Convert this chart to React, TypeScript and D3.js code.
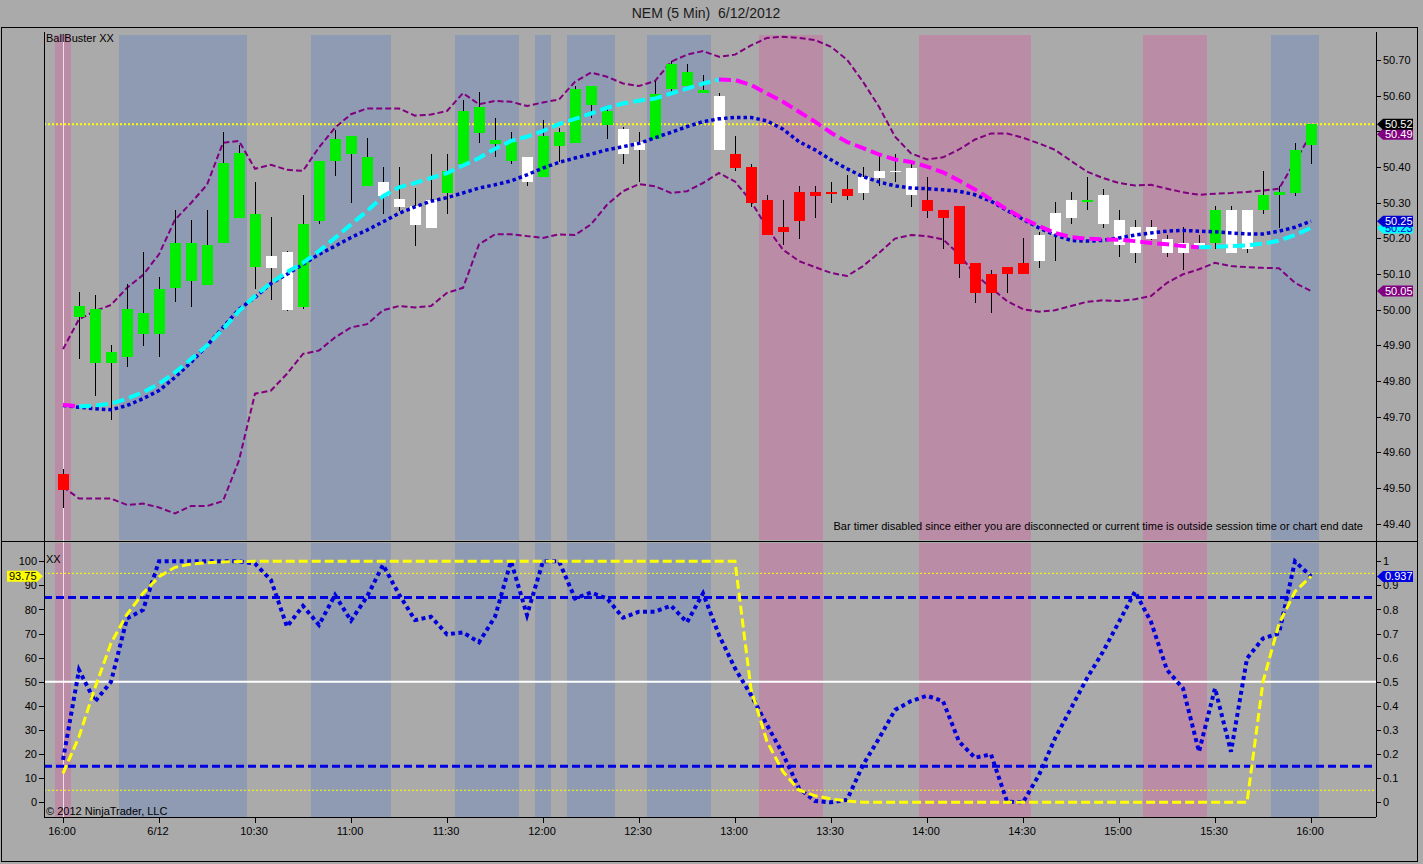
import React from 'react';
import * as d3 from 'd3';

// ---------- DATA ----------
const barColor: string[] = [
  'r', 'g', 'g', 'g', 'g', 'g', 'g', 'g', 'g', 'g',
  'g', 'g', 'g', 'w', 'w', 'g', 'g', 'g', 'g', 'g',
  'w', 'w', 'w', 'w', 'g', 'g', 'g', 'g', 'g', 'w',
  'g', 'g', 'g', 'g', 'g', 'w', 'w', 'g', 'g', 'g',
  'g', 'w', 'r', 'r', 'r', 'r', 'r', 'r', 'r', 'r',
  'w', 'w', 'w', 'w', 'r', 'r', 'r', 'r', 'r', 'r',
  'r', 'w', 'w', 'w', 'g', 'w', 'w', 'w', 'w', 'w',
  'w', 'w', 'g', 'w', 'w', 'g', 'g', 'g', 'g',
];

const openP = [
  49.540, 49.978, 49.849, 49.849, 49.868, 49.931, 49.931, 50.060, 50.080, 50.068,
  50.187, 50.257, 50.119, 50.150, 50.161, 50.008, 50.248, 50.417, 50.437, 50.346,
  50.359, 50.310, 50.290, 50.308, 50.327, 50.408, 50.496, 50.465, 50.417, 50.429,
  50.371, 50.459, 50.466, 50.575, 50.518, 50.507, 50.469, 50.479, 50.618, 50.628,
  50.608, 50.600, 50.437, 50.399, 50.308, 50.231, 50.329, 50.329, 50.329, 50.339,
  50.371, 50.389, 50.389, 50.397, 50.308, 50.278, 50.290, 50.130, 50.099, 50.119,
  50.131, 50.209, 50.271, 50.308, 50.301, 50.320, 50.250, 50.231, 50.231, 50.199,
  50.187, 50.187, 50.187, 50.278, 50.278, 50.278, 50.320, 50.327, 50.462,
];
const highP = [
  49.553, 50.050, 50.041, 49.901, 50.071, 50.162, 50.092, 50.280, 50.252, 50.280,
  50.499, 50.462, 50.359, 50.259, 50.165, 50.320, 50.417, 50.504, 50.488, 50.480,
  50.399, 50.399, 50.341, 50.437, 50.437, 50.589, 50.609, 50.538, 50.499, 50.429,
  50.532, 50.508, 50.628, 50.628, 50.569, 50.513, 50.499, 50.641, 50.697, 50.688,
  50.659, 50.608, 50.488, 50.409, 50.320, 50.308, 50.348, 50.348, 50.359, 50.378,
  50.399, 50.432, 50.436, 50.408, 50.371, 50.278, 50.290, 50.130, 50.110, 50.119,
  50.201, 50.218, 50.301, 50.329, 50.371, 50.339, 50.278, 50.251, 50.251, 50.209,
  50.231, 50.209, 50.290, 50.290, 50.278, 50.389, 50.348, 50.468, 50.520,
];
const lowP = [
  49.443, 49.861, 49.758, 49.689, 49.838, 49.899, 49.868, 50.020, 50.008, 50.068,
  50.187, 50.257, 50.059, 50.027, 49.995, 50.001, 50.239, 50.376, 50.299, 50.346,
  50.268, 50.276, 50.178, 50.229, 50.268, 50.408, 50.466, 50.427, 50.408, 50.346,
  50.371, 50.415, 50.466, 50.536, 50.479, 50.408, 50.358, 50.479, 50.606, 50.628,
  50.608, 50.448, 50.389, 50.288, 50.208, 50.181, 50.198, 50.257, 50.299, 50.306,
  50.306, 50.348, 50.358, 50.288, 50.257, 50.169, 50.089, 50.018, 49.989, 50.047,
  50.099, 50.117, 50.136, 50.239, 50.278, 50.229, 50.148, 50.130, 50.194, 50.148,
  50.110, 50.178, 50.169, 50.159, 50.159, 50.269, 50.229, 50.318, 50.408,
];
const closeP = [
  49.494, 50.010, 50.001, 49.880, 50.001, 49.990, 50.059, 50.187, 50.187, 50.180,
  50.411, 50.439, 50.269, 50.117, 49.999, 50.239, 50.417, 50.479, 50.488, 50.427,
  50.318, 50.288, 50.237, 50.229, 50.389, 50.557, 50.567, 50.475, 50.471, 50.358,
  50.488, 50.499, 50.618, 50.628, 50.557, 50.436, 50.448, 50.606, 50.688, 50.667,
  50.617, 50.448, 50.397, 50.299, 50.208, 50.218, 50.248, 50.318, 50.327, 50.318,
  50.327, 50.369, 50.387, 50.320, 50.276, 50.257, 50.128, 50.047, 50.047, 50.099,
  50.099, 50.136, 50.212, 50.257, 50.308, 50.239, 50.180, 50.159, 50.198, 50.159,
  50.159, 50.178, 50.278, 50.159, 50.169, 50.320, 50.329, 50.448, 50.520,
];

const upperBand = [
  49.889, 49.973, 49.996, 50.013, 50.061, 50.097, 50.155, 50.252, 50.299, 50.350,
  50.468, 50.473, 50.395, 50.406, 50.392, 50.389, 50.455, 50.510, 50.548, 50.564,
  50.564, 50.564, 50.544, 50.547, 50.557, 50.607, 50.576, 50.585, 50.583, 50.571,
  50.581, 50.589, 50.639, 50.665, 50.653, 50.634, 50.627, 50.641, 50.695, 50.715,
  50.725, 50.709, 50.715, 50.741, 50.762, 50.765, 50.762, 50.756, 50.737, 50.701,
  50.639, 50.569, 50.485, 50.438, 50.421, 50.427, 50.449, 50.477, 50.494, 50.494,
  50.482, 50.466, 50.448, 50.417, 50.387, 50.369, 50.355, 50.348, 50.350, 50.339,
  50.329, 50.322, 50.325, 50.327, 50.330, 50.334, 50.339, 50.415, 50.492,
];
const lowerBand = [
  49.503, 49.470, 49.470, 49.470, 49.452, 49.456, 49.445, 49.428, 49.449, 49.449,
  49.463, 49.577, 49.764, 49.773, 49.820, 49.876, 49.885, 49.922, 49.950, 49.959,
  49.998, 50.010, 50.006, 50.010, 50.047, 50.061, 50.183, 50.211, 50.211, 50.206,
  50.201, 50.211, 50.209, 50.239, 50.294, 50.332, 50.352, 50.346, 50.327, 50.332,
  50.355, 50.383, 50.359, 50.304, 50.229, 50.168, 50.136, 50.119, 50.103, 50.094,
  50.122, 50.159, 50.199, 50.209, 50.206, 50.197, 50.155, 50.099, 50.061, 50.024,
  50.001, 49.994, 49.998, 50.010, 50.022, 50.026, 50.024, 50.029, 50.038, 50.075,
  50.099, 50.113, 50.131, 50.122, 50.119, 50.117, 50.116, 50.075, 50.052,
];
const midLine = [
  49.731, 49.726, 49.722, 49.719, 49.731, 49.750, 49.773, 49.810, 49.852, 49.899,
  49.950, 50.001, 50.034, 50.073, 50.099, 50.127, 50.155, 50.178, 50.202, 50.223,
  50.246, 50.270, 50.288, 50.304, 50.314, 50.327, 50.341, 50.350, 50.361, 50.378,
  50.397, 50.413, 50.425, 50.436, 50.448, 50.457, 50.466, 50.482, 50.497, 50.513,
  50.527, 50.535, 50.539, 50.539, 50.529, 50.506, 50.471, 50.448, 50.420, 50.395,
  50.373, 50.358, 50.347, 50.341, 50.339, 50.336, 50.332, 50.322, 50.304, 50.278,
  50.253, 50.229, 50.209, 50.194, 50.192, 50.194, 50.201, 50.209, 50.215, 50.220,
  50.222, 50.220, 50.218, 50.215, 50.212, 50.212, 50.220, 50.231, 50.248,
];
const trendLine = [
  49.733, 49.728, 49.731, 49.736, 49.750, 49.768, 49.792, 49.824, 49.861, 49.899,
  49.945, 49.996, 50.038, 50.075, 50.105, 50.131, 50.164, 50.201, 50.239, 50.276,
  50.318, 50.343, 50.355, 50.369, 50.383, 50.404, 50.425, 50.451, 50.473, 50.485,
  50.501, 50.520, 50.535, 50.550, 50.566, 50.578, 50.586, 50.592, 50.606, 50.620,
  50.634, 50.645, 50.644, 50.630, 50.606, 50.583, 50.555, 50.527, 50.496, 50.470,
  50.453, 50.435, 50.421, 50.414, 50.401, 50.385, 50.362, 50.337, 50.309, 50.281,
  50.256, 50.234, 50.215, 50.203, 50.199, 50.197, 50.196, 50.192, 50.187, 50.183,
  50.178, 50.175, 50.176, 50.178, 50.180, 50.185, 50.193, 50.209, 50.229,
];

const oscDotted = [
  17.6, 54.9, 41.8, 50.0, 76.3, 79.8, 100, 100, 100, 100,
  100, 100, 99.0, 92.2, 72.9, 81.5, 73.6, 86.0, 75.4, 85.3,
  98.5, 86.3, 75.6, 77.0, 69.7, 70.5, 66.4, 77.0, 100, 77.7,
  100, 100, 84.6, 87.0, 84.6, 76.6, 79.1, 79.1, 81.6, 74.7,
  86.7, 69.4, 55.6, 44.5, 32.1, 20.0, 5.8, 0.5, 0, 1.0,
  15.5, 26.5, 38.3, 42.0, 44.2, 42.0, 25.2, 18.5, 19.9, 0.3,
  0, 11.3, 26.5, 39.0, 51.5, 62.5, 74.9, 87.4, 74.9, 54.9,
  47.3, 21.0, 47.3, 21.0, 59.7, 68.0, 70.1, 100, 93.7,
];
const oscDashed = [
  12.0, 27.2, 47.5, 66.0, 78.0, 86.7, 93.6, 97.5, 98.9, 99.4,
  99.7, 99.9, 100, 100, 100, 100, 100, 100, 100, 100,
  100, 100, 100, 100, 100, 100, 100, 100, 100, 100,
  100, 100, 100, 100, 100, 100, 100, 100, 100, 100,
  100, 100, 100, 47.0, 25.2, 12.7, 5.1, 2.7, 1.4, 0.5,
  0, 0, 0, 0, 0, 0, 0, 0, 0, 0,
  0, 0, 0, 0, 0, 0, 0, 0, 0, 0,
  0, 0, 0, 0, 0, 50.0, 74.0, 87.4, 93.75,
];

const blueZones: [number, number][] = [[4, 11], [16, 20], [25, 28], [30, 30], [32, 34], [37, 40], [76, 78]];
const pinkZones: [number, number][] = [[0, 0], [44, 47], [54, 60], [68, 71]];

const timeTickBars = [0, 6, 12, 18, 24, 30, 36, 42, 48, 54, 60, 66, 72, 78];
const timeTickLabels = ['16:00', '6/12', '10:30', '11:00', '11:30', '12:00', '12:30', '13:00', '13:30', '14:00', '14:30', '15:00', '15:30', '16:00'];
const priceTicks = [49.4, 49.5, 49.6, 49.7, 49.8, 49.9, 50.0, 50.1, 50.2, 50.3, 50.4, 50.5, 50.6, 50.7];
const oscTicks = [0, 10, 20, 30, 40, 50, 60, 70, 80, 90, 100];
const oscLevels = { hiDot: 95, loDot: 5, hiDash: 85, loDash: 15, mid: 50 };

// ---------- LAYOUT ----------
const W = 1423, H = 864;
const FONT = "'Liberation Sans', Arial, Helvetica, sans-serif";
const L = 44, R = 1376;
const BG = '#aaaaaa';
const BLUE_Z = '#8f9ab3';
const PINK_Z = '#bb8ca6';

export default function App() {
  const N = closeP.length;
  const x = d3.scaleLinear().domain([0, N - 1]).range([63, 1311]);
  const yP = d3.scaleLinear().domain([49.4, 50.7]).range([523.5, 60]);
  const yO = d3.scaleLinear().domain([0, 100]).range([802.3, 561.3]);
  const idx = d3.range(N);

  const lineP = (arr: number[]) =>
    d3.line<number>().x(i => x(i)).y(i => yP(arr[i]))(idx) || '';
  const lineO = (arr: number[]) =>
    d3.line<number>().x(i => x(i)).y(i => yO(arr[i]))(idx) || '';

  // cyan / magenta runs of the trend line
  const runs: { s: number; e: number; c: string }[] = [];
  let s = 0;
  let col = trendLine[1] >= trendLine[0] ? '#00ffff' : '#ff00ff';
  for (let i = 1; i < N; i++) {
    const c = trendLine[i] >= trendLine[i - 1] ? '#00ffff' : '#ff00ff';
    if (c !== col) {
      runs.push({ s, e: i - 1, c: col });
      s = i - 1;
      col = c;
    }
  }
  runs.push({ s, e: N - 1, c: col });

  const zoneRects = (top: number, bottom: number, key: string) => (
    <g key={key}>
      {blueZones.map(([a, b], k) => (
        <rect key={'b' + k} x={x(a) - 8} y={top} width={x(b) - x(a) + 16} height={bottom - top} fill={BLUE_Z} />
      ))}
      {pinkZones.map(([a, b], k) => (
        <rect key={'p' + k} x={x(a) - 8} y={top} width={x(b) - x(a) + 16} height={bottom - top} fill={PINK_Z} />
      ))}
    </g>
  );

  const colorOf = (c: string) => (c === 'g' ? '#00ee00' : c === 'r' ? '#ff0000' : '#ffffff');

  const rightMarker = (v: number, label: string, fill: string, tc: string, key: string) => {
    const y = v;
    return (
      <g key={key}>
        <polygon points={`1377,${y} 1383,${y - 5.5} 1413,${y - 5.5} 1413,${y + 5.5} 1383,${y + 5.5}`} fill={fill} />
        <text x={1385} y={y + 4} fontSize={11} fill={tc} fontFamily={FONT}>{label}</text>
      </g>
    );
  };

  const last = N - 1;

  return (
    <svg width={W} height={H} style={{ position: 'absolute', left: 0, top: 0, background: BG }} fontFamily={FONT}>
      <rect x={0} y={0} width={W} height={H} fill={BG} />
      {/* title */}
      <text x={706} y={18} fontSize={14} textAnchor="middle" fill="#1a1a1a" style={{ whiteSpace: 'pre' }}>
        {'NEM (5 Min)  6/12/2012'}
      </text>

      {/* zones */}
      {zoneRects(35, 540, 'z1')}
      {zoneRects(543, 817, 'z2')}
      <line x1={x(0) + 0.5} x2={x(0) + 0.5} y1={35} y2={817} stroke="#f2dde8" strokeWidth={1} />

      {/* ---- top panel ---- */}
      <line x1={L} x2={R} y1={yP(closeP[last])} y2={yP(closeP[last])} stroke="#ffff00" strokeWidth={2} strokeDasharray="2,2" />
      <path d={lineP(upperBand)} fill="none" stroke="#800080" strokeWidth={2} strokeDasharray="6,3" />
      <path d={lineP(lowerBand)} fill="none" stroke="#800080" strokeWidth={2} strokeDasharray="6,3" />

      {/* candles */}
      <g shapeRendering="crispEdges">
        {idx.map(i => {
          const cx = Math.round(x(i));
          const top = yP(Math.max(openP[i], closeP[i]));
          const bot = yP(Math.min(openP[i], closeP[i]));
          return (
            <g key={i}>
              <line x1={cx + 0.5} x2={cx + 0.5} y1={yP(highP[i])} y2={yP(lowP[i])} stroke="#000" strokeWidth={1} />
              <rect x={cx - 5} y={top} width={11} height={Math.max(1.5, bot - top)} fill={colorOf(barColor[i])} />
            </g>
          );
        })}
      </g>

      <path d={lineP(midLine)} fill="none" stroke="#0000d0" strokeWidth={3.5} strokeDasharray="3.5,3" />
      {runs.map((r, k) => (
        <path
          key={k}
          d={d3.line<number>().x(i => x(i)).y(i => yP(trendLine[i]))(d3.range(r.s, r.e + 1)) || ''}
          fill="none"
          stroke={r.c}
          strokeWidth={4}
          strokeDasharray="12,5"
        />
      ))}

      <text x={46} y={42} fontSize={11} fill="#000">BallBuster XX</text>
      <text x={1363} y={530} fontSize={11} fill="#000" textAnchor="end">
        Bar timer disabled since either you are disconnected or current time is outside session time or chart end date
      </text>

      {/* right price axis */}
      {priceTicks.map((p, k) => (
        <g key={k}>
          <line x1={R} x2={R + 5} y1={Math.round(yP(p)) + 0.5} y2={Math.round(yP(p)) + 0.5} stroke="#000" />
          <text x={1383} y={yP(p) + 4} fontSize={11} fill="#000">{p.toFixed(2)}</text>
        </g>
      ))}
      {rightMarker(yP(upperBand[last]), upperBand[last].toFixed(2), '#800080', '#ffffff', 'm1')}
      {rightMarker(yP(closeP[last]), closeP[last].toFixed(2), '#000000', '#ffffff', 'm2')}
      {rightMarker(yP(trendLine[last]), trendLine[last].toFixed(2), '#00ffff', '#0000cc', 'm3')}
      {rightMarker(yP(midLine[last]), midLine[last].toFixed(2), '#0000d0', '#ffffff', 'm4')}
      {rightMarker(yP(lowerBand[last]), lowerBand[last].toFixed(2), '#800080', '#ffffff', 'm5')}

      {/* ---- bottom panel ---- */}
      <line x1={L} x2={R} y1={yO(oscLevels.hiDot)} y2={yO(oscLevels.hiDot)} stroke="#ffff00" strokeWidth={1} strokeDasharray="2,2" />
      <line x1={L} x2={R} y1={yO(oscLevels.loDot)} y2={yO(oscLevels.loDot)} stroke="#ffff00" strokeWidth={1} strokeDasharray="2,2" />
      <line x1={L} x2={R} y1={yO(oscLevels.hiDash)} y2={yO(oscLevels.hiDash)} stroke="#0000e0" strokeWidth={3} strokeDasharray="8,4" />
      <line x1={L} x2={R} y1={yO(oscLevels.loDash)} y2={yO(oscLevels.loDash)} stroke="#0000e0" strokeWidth={3} strokeDasharray="8,4" />
      <line x1={L} x2={R} y1={yO(oscLevels.mid)} y2={yO(oscLevels.mid)} stroke="#ffffff" strokeWidth={2} />

      <path d={lineO(oscDotted)} fill="none" stroke="#0000dd" strokeWidth={4} strokeDasharray="4,3.5" />
      <path d={lineO(oscDashed)} fill="none" stroke="#ffff00" strokeWidth={3} strokeDasharray="9,4" />

      <text x={46} y={563} fontSize={11} fill="#000">XX</text>
      <text x={46} y={815} fontSize={11} fill="#000">© 2012 NinjaTrader, LLC</text>

      {/* left osc axis */}
      {oscTicks.map((v, k) => (
        <g key={k}>
          <line x1={L - 5} x2={L} y1={Math.round(yO(v)) + 0.5} y2={Math.round(yO(v)) + 0.5} stroke="#000" />
          <text x={37} y={yO(v) + 4} fontSize={11} fill="#000" textAnchor="end">{v}</text>
        </g>
      ))}
      {/* right osc axis */}
      {oscTicks.map((v, k) => (
        <g key={k}>
          <line x1={R} x2={R + 5} y1={Math.round(yO(v)) + 0.5} y2={Math.round(yO(v)) + 0.5} stroke="#000" />
          <text x={1383} y={yO(v) + 4} fontSize={11} fill="#000">{String(v / 100)}</text>
        </g>
      ))}
      {(() => {
        const y = yO(oscDashed[last]);
        return (
          <g>
            <polygon points={`7,${y - 5.5} 37,${y - 5.5} 43,${y} 37,${y + 5.5} 7,${y + 5.5}`} fill="#ffff00" />
            <text x={9} y={y + 4} fontSize={11} fill="#000">{oscDashed[last].toFixed(2)}</text>
          </g>
        );
      })()}
      {rightMarker(yO(oscDotted[last]), (oscDotted[last] / 100).toFixed(3), '#0000e0', '#ffffff', 'm6')}

      {/* x axis */}
      <line x1={L} x2={R} y1={817.5} y2={817.5} stroke="#000" />
      {timeTickBars.map((b, k) => (
        <g key={k}>
          <line x1={Math.round(x(b)) + 0.5} x2={Math.round(x(b)) + 0.5} y1={817} y2={823} stroke="#000" />
          <text x={x(b) - 1} y={835} fontSize={11} fill="#000" textAnchor="middle">{timeTickLabels[k]}</text>
        </g>
      ))}

      {/* frames */}
      <g shapeRendering="crispEdges" stroke="#000" fill="none">
        <rect x={1.5} y={27.5} width={1416} height={834} />
        <line x1={1} x2={1418} y1={541.5} y2={541.5} />
        <line x1={L + 0.5} x2={L + 0.5} y1={32} y2={817} />
        <line x1={R + 0.5} x2={R + 0.5} y1={32} y2={817} />
      </g>
    </svg>
  );
}
